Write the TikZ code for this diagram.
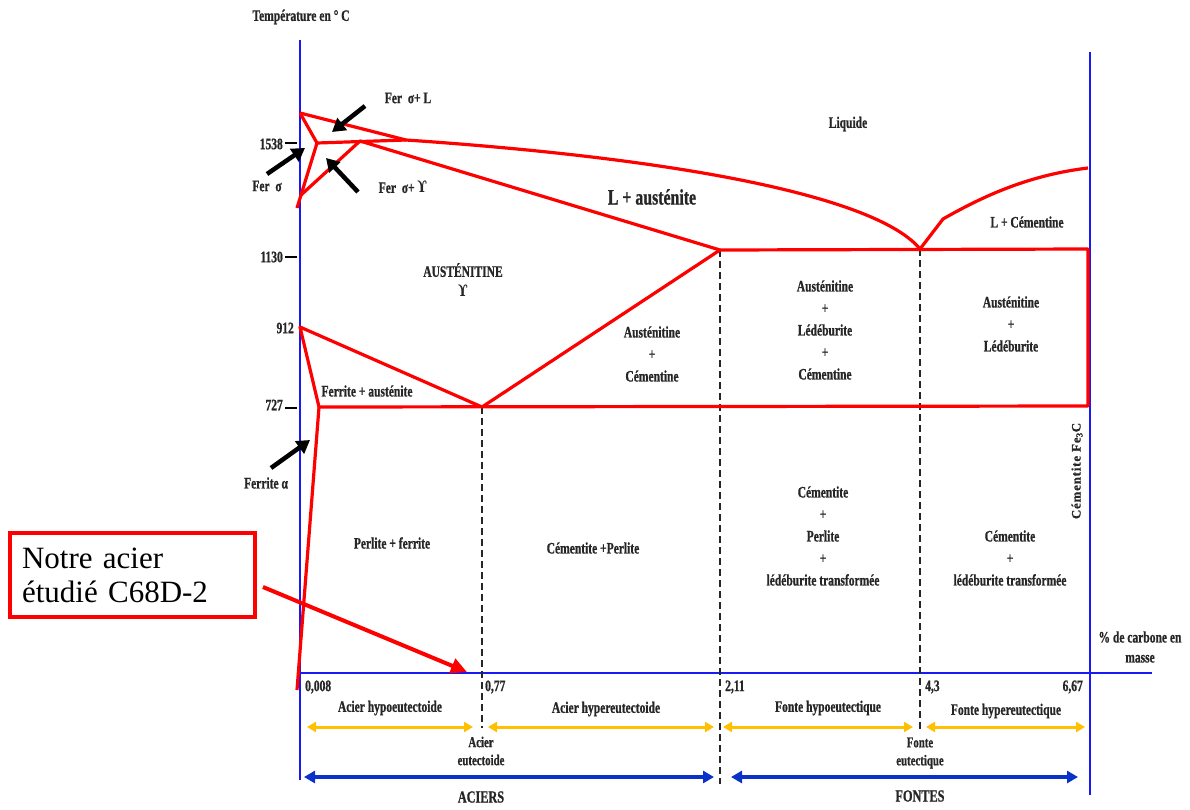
\documentclass[tikz,border=0pt]{standalone}
\usepackage{fontspec}
\setmainfont{Liberation Serif}
\newfontfamily\cond[FakeStretch=0.72,FakeBold=0.8]{Liberation Serif}
\newfontfamily\spaced[LetterSpace=6,FakeBold=0.6]{Liberation Serif}
\newfontfamily\ups[FakeStretch=0.8]{DejaVu Serif}
\usetikzlibrary{arrows.meta}
\definecolor{phred}{RGB}{255,0,0}
\definecolor{axblue}{RGB}{25,25,245}
\definecolor{arrowyel}{RGB}{255,192,0}
\definecolor{arrowblue}{RGB}{10,50,200}
\newcommand{\upsil}{{\ups\bfseries ϒ}}
\begin{document}
\begin{tikzpicture}[x=1pt,y=-1pt,
 lab/.style={font=\cond\bfseries\fontsize{16}{22}\selectfont,align=center,inner sep=0pt,text=black!85},
 phase/.style={draw=phred,line width=3.2pt,line join=round},
 axisline/.style={draw=axblue,line width=2.8pt},
 tickm/.style={draw=black,line width=2.8pt},
 dashv/.style={draw=black!85,line width=2.2pt,dash pattern=on 7pt off 4pt},
 yarr/.style={draw=arrowyel,line width=3pt,{Triangle[length=9pt,width=10pt]}-{Triangle[length=9pt,width=10pt]}},
 barr/.style={draw=arrowblue,line width=4pt,{Triangle[length=11pt,width=12pt]}-{Triangle[length=11pt,width=12pt]}},
 pointer/.style={draw=black,line width=4.5pt,-{Triangle[length=13pt,width=15pt]}},
]
\useasboundingbox (0,0) rectangle (1190,809);
\fill[white] (0,0) rectangle (1190,809);

% axes
\draw[axisline] (300,40) -- (300,780);
\draw[axisline] (1090,52) -- (1090,795);
\draw[axisline] (300,673) -- (1152,673);

% key points
\coordinate (dTop) at (300,113);
\coordinate (dMid) at (317,143);
\coordinate (dBot) at (301,195);
\coordinate (dBotx) at (297,208);
\coordinate (perR) at (360,141);
\coordinate (liqK) at (406,140);
\coordinate (eutC) at (720,250);
\coordinate (eutE) at (920,249);
\coordinate (eutR) at (1088,249);
\coordinate (g912) at (300,327);
\coordinate (ferP) at (319,407);
\coordinate (eutS) at (482,407);
\coordinate (eutSR) at (1088,406);
\coordinate (ferB) at (297,690);
\coordinate (cemK) at (943,219);
\coordinate (cemTop) at (1088,168);

% dashed verticals
\coordinate (dsS) at (482,728);
\coordinate (dsC) at (720,784);
\coordinate (dsE) at (920,731);
\draw[dashv] (eutS) -- (dsS);
\draw[dashv] (eutC) -- (dsC);
\draw[dashv] (eutE) -- (dsE);

% phase boundaries
\draw[phase] (dTop) -- (dMid) -- (dBot) -- (dBotx);
\draw[phase] (dMid) -- (liqK);
\draw[phase] (dTop) -- (liqK) .. controls (700,160) and (880,200) .. (eutE);
\draw[phase] (dBot) -- (perR) -- (eutC);
\draw[phase] (eutC) -- (eutR) -- (eutSR) -- (ferP) -- (g912) -- (eutS) -- (eutC);
\draw[phase] (ferP) -- (ferB);
\draw[phase] (eutE) -- (cemK) .. controls (985,195) and (1030,175) .. (cemTop);

% ticks
\draw[tickm] (285,143) -- (297,143);
\draw[tickm] (285,257) -- (297,257);
\draw[tickm] (285,408) -- (297,408);

% title and temperatures
\node[lab] (ttl) at (301,17) {Température en ° C};
\node[lab,anchor=east] (t1538) at (283,144) {1538};
\node[lab,anchor=east] (t1130) at (283,257) {1130};
\node[lab,anchor=east] (t912) at (294,328) {912};
\node[lab,anchor=east] (t727) at (283,405) {727};

% phase labels
\node[lab] (fsl) at (408,98) {Fer\ \ σ+ L};
\node[lab] (fs) at (267,186) {Fer\ \ σ};
\node[lab] (fsg) at (403,187) {Fer\ \ σ+ \upsil};
\node[lab] (liq) at (848,124) {Liquide};
\node[lab,font=\cond\bfseries\fontsize{22}{24}\selectfont] (laus) at (652,197) {L + austénite};
\node[lab,font=\cond\bfseries\fontsize{16}{20}\selectfont] (aust) at (463,280) {AUSTÉNITINE\\\upsil};
\node[lab] (ac) at (652,354) {Austénitine\\+\\Cémentine};
\node[lab] (alc) at (825,330) {Austénitine\\+\\Lédéburite\\+\\Cémentine};
\node[lab] (al) at (1011,324) {Austénitine\\+\\Lédéburite};
\node[lab] (lc) at (1027,222) {L + Cémentine};
\node[lab] (fa) at (367,391) {Ferrite + austénite};
\node[lab] (falpha) at (266,483) {Ferrite α};
\node[lab] (pf) at (392,543) {Perlite + ferrite};
\node[lab] (cp) at (593,548) {Cémentite +Perlite};
\node[lab] (cpl) at (823,536) {Cémentite\\+\\Perlite\\+\\lédéburite transformée};
\node[lab] (cl) at (1010,558) {Cémentite\\+\\lédéburite transformée};
\node[lab,rotate=90,font=\spaced\bfseries\fontsize{13}{15}\selectfont] (fe3c) at (1077,471) {Cémentite Fe\textsubscript{3}C};
\node[lab,font=\cond\bfseries\fontsize{16}{20}\selectfont] (pct) at (1140,647) {\% de carbone en\\masse};

% composition values
\node[lab,anchor=west] (n0) at (305,687) {0,008};
\node[lab,anchor=west] (n077) at (485,687) {0,77};
\node[lab,anchor=west] (n211) at (725,687) {2,11};
\node[lab,anchor=west] (n43) at (925,687) {4,3};
\node[lab,anchor=east] (n667) at (1083,687) {6,67};

% range labels
\node[lab] (ahypo) at (390,708) {Acier hypoeutectoide};
\node[lab] (ahyper) at (606,709) {Acier hypereutectoide};
\node[lab] (fhypo) at (828,708) {Fonte hypoeutectique};
\node[lab] (fhyper) at (1006,711) {Fonte hypereutectique};
\node[lab,font=\cond\bfseries\fontsize{15}{18}\selectfont] (aeut) at (481,751) {Acier\\eutectoide};
\node[lab,font=\cond\bfseries\fontsize{15}{18}\selectfont] (feut) at (920,753) {Fonte\\eutectique};
\node[lab,font=\cond\bfseries\fontsize{17}{18}\selectfont] (aciers) at (481,797) {ACIERS};
\node[lab,font=\cond\bfseries\fontsize{17}{18}\selectfont] (fontes) at (920,796) {FONTES};

% range arrows
\coordinate (y1a) at (307,727); \coordinate (y1b) at (473,727);
\coordinate (y2a) at (488,727); \coordinate (y2b) at (714,727);
\coordinate (y3a) at (723,727); \coordinate (y3b) at (913,727);
\coordinate (y4a) at (926,727); \coordinate (y4b) at (1085,727);
\draw[yarr] (y1a) -- (y1b);
\draw[yarr] (y2a) -- (y2b);
\draw[yarr] (y3a) -- (y3b);
\draw[yarr] (y4a) -- (y4b);
\coordinate (b1a) at (304,777); \coordinate (b1b) at (714,777);
\coordinate (b2a) at (731,777); \coordinate (b2b) at (1078,777);
\draw[barr] (b1a) -- (b1b);
\draw[barr] (b2a) -- (b2b);

% pointer arrows
\coordinate (p1a) at (365,106); \coordinate (p1b) at (332,132);
\coordinate (p2a) at (267,174); \coordinate (p2b) at (305,148);
\coordinate (p3a) at (358,192); \coordinate (p3b) at (326,158);
\coordinate (p4a) at (271,468); \coordinate (p4b) at (310,440);
\draw[pointer] (p1a) -- (p1b);
\draw[pointer] (p2a) -- (p2b);
\draw[pointer] (p3a) -- (p3b);
\draw[pointer] (p4a) -- (p4b);

% note box
\node[draw=phred,line width=4pt,minimum width=245pt,minimum height=84pt,align=left,text width=220pt,inner sep=0pt,font=\fontsize{31}{34}\selectfont] (note) at (132,575) {Notre acier\\étudié C68D-2};
\coordinate (na) at (263,587); \coordinate (nb) at (467,672);
\draw[draw=phred,line width=4pt,-{Triangle[length=16pt,width=15pt]}] (na) -- (nb);
\end{tikzpicture}
\end{document}
